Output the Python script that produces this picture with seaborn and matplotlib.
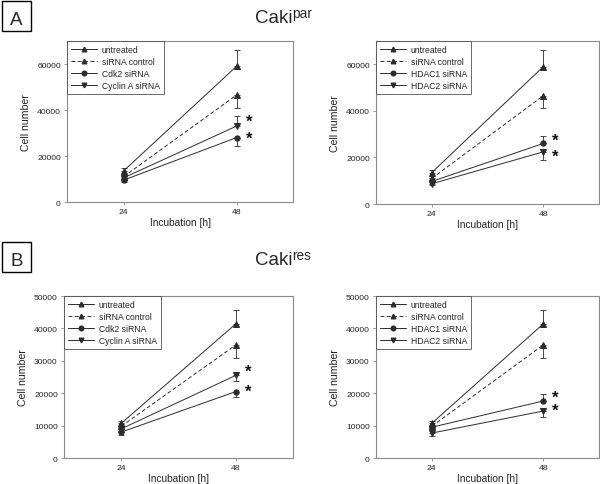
import matplotlib
matplotlib.use("Agg")
import matplotlib.pyplot as plt
import seaborn as sns
import pandas as pd
from matplotlib.lines import Line2D
from matplotlib.patches import Rectangle

sns.set_style("white")
plt.rcParams['font.family'] = ['Liberation Sans', 'DejaVu Sans']

hours = [24, 48]

# Caki par (cell numbers), error bars one-sided
par_untreated = [13500, 59000]
par_untreated_err = [1300, 7000]
par_control_l = [11000, 46500]
par_control_l_err = [1000, 5500]
par_cdk2 = [9500, 28000]
par_cdk2_err = [800, 3500]
par_cyclin = [10500, 33000]
par_cyclin_err = [800, 4200]

par_control_r = [11000, 46500]
par_control_r_err = [1000, 5200]
par_hdac1 = [9700, 26000]
par_hdac1_err = [600, 3100]
par_hdac2 = [8700, 22400]
par_hdac2_err = [600, 3300]

# Caki res
res_untreated = [10700, 41400]
res_untreated_err = [800, 4200]
res_control = [9800, 34900]
res_control_err = [900, 4000]
res_cdk2 = [8000, 20500]
res_cdk2_err = [900, 1800]
res_cyclin = [9000, 25500]
res_cyclin_err = [800, 1800]
res_hdac1 = [9500, 17600]
res_hdac1_err = [700, 2100]
res_hdac2 = [7700, 14500]
res_hdac2_err = [800, 1800]

LINE = '#2b2b2b'
FRAME = '#8a8a8a'
DASH = (0, (4, 2.5))
W, H = 600, 485


def draw_series(ax, vals, err, direction, marker, ls, label):
    df = pd.DataFrame({'h': hours, 'n': vals})
    sns.lineplot(data=df, x='h', y='n', ax=ax, color=LINE, lw=0.7,
                 linestyle=ls, marker=marker, markersize=3.8,
                 markeredgecolor=LINE, label=label, legend=False)
    lo = [0, 0]
    hi = [0, 0]
    if direction == 'up':
        hi = err
    else:
        lo = err
    ax.errorbar(hours, vals, yerr=[lo, hi], fmt='none', ecolor=LINE,
                elinewidth=0.6, capsize=2.5, capthick=0.6)


def add_stars(ax, y_top, y_bot):
    # both significance stars in one text, line gap matched to the data gap
    p0 = ax.transData.transform((48, y_top))[1]
    p1 = ax.transData.transform((48, y_bot))[1]
    gap = p0 - p1
    fs = 12
    ascent = 0.73 * fs * 100 / 72
    ax.text(50.6, (y_top + y_bot) / 2, '*\n*', fontsize=fs, fontweight='bold',
            ha='center', va='center', linespacing=gap / ascent, color='#111111')


def style_axes(ax, ymax, labels):
    ax.set_xlim(12, 60)
    ax.set_ylim(0, ymax)
    ax.set_xticks(hours)
    if ymax == 50000:
        ax.set_yticks(range(0, 50001, 10000))
    else:
        ax.set_yticks(range(0, 60001, 20000))
    ax.tick_params(axis='both', labelsize=6.1, length=2.5, width=0.6,
                   color=FRAME, direction='out', pad=2, labelcolor='#222222')
    ax.tick_params(left=True, bottom=True)
    for s in ax.spines.values():
        s.set_color(FRAME)
        s.set_linewidth(0.8)
    ax.set_xlabel('Incubation [h]', fontsize=7.3, labelpad=1, color='#222222')
    ax.set_ylabel('Cell number', fontsize=7.6, labelpad=4, color='#222222')
    handles = [
        Line2D([], [], color=LINE, lw=0.7, marker='^', markersize=3.3),
        Line2D([], [], color=LINE, lw=0.7, ls=DASH, marker='^', markersize=3.3),
        Line2D([], [], color=LINE, lw=0.7, marker='o', markersize=3.3),
        Line2D([], [], color=LINE, lw=0.7, marker='v', markersize=3.3),
    ]
    leg = ax.legend(handles, labels, loc='upper left', borderaxespad=0,
                    fontsize=6.2, frameon=True, fancybox=False,
                    handlelength=3.0, labelspacing=0.35, borderpad=0.45,
                    handletextpad=0.6, labelcolor='#222222')
    leg.get_frame().set_edgecolor('#444444')
    leg.get_frame().set_linewidth(0.7)


fig = plt.figure(figsize=(6, 4.85), dpi=100)

ax1 = fig.add_axes([0.1117, 0.5814, 0.3767, 0.332])
draw_series(ax1, par_untreated, par_untreated_err, 'up', '^', '-', 'untreated')
draw_series(ax1, par_control_l, par_control_l_err, 'down', '^', DASH, 'siRNA control')
draw_series(ax1, par_cdk2, par_cdk2_err, 'down', 'o', '-', 'Cdk2 siRNA')
draw_series(ax1, par_cyclin, par_cyclin_err, 'up', 'v', '-', 'Cyclin A siRNA')
style_axes(ax1, 70000, ['untreated', 'siRNA control', 'Cdk2 siRNA', 'Cyclin A siRNA'])
add_stars(ax1, par_cyclin[1] + 1500, par_cdk2[1] + 500)

ax2 = fig.add_axes([0.6267, 0.5773, 0.3717, 0.336])
draw_series(ax2, par_untreated, par_untreated_err, 'up', '^', '-', 'untreated')
draw_series(ax2, par_control_r, par_control_r_err, 'down', '^', DASH, 'siRNA control')
draw_series(ax2, par_hdac1, par_hdac1_err, 'up', 'o', '-', 'HDAC1 siRNA')
draw_series(ax2, par_hdac2, par_hdac2_err, 'down', 'v', '-', 'HDAC2 siRNA')
style_axes(ax2, 70000, ['untreated', 'siRNA control', 'HDAC1 siRNA', 'HDAC2 siRNA'])
add_stars(ax2, par_hdac1[1] + 800, par_hdac2[1] - 1300)

ax3 = fig.add_axes([0.1067, 0.0536, 0.3817, 0.334])
draw_series(ax3, res_untreated, res_untreated_err, 'up', '^', '-', 'untreated')
draw_series(ax3, res_control, res_control_err, 'down', '^', DASH, 'siRNA control')
draw_series(ax3, res_cdk2, res_cdk2_err, 'down', 'o', '-', 'Cdk2 siRNA')
draw_series(ax3, res_cyclin, res_cyclin_err, 'down', 'v', '-', 'Cyclin A siRNA')
style_axes(ax3, 50000, ['untreated', 'siRNA control', 'Cdk2 siRNA', 'Cyclin A siRNA'])
add_stars(ax3, res_cyclin[1] + 800, res_cdk2[1] + 500)

ax4 = fig.add_axes([0.6267, 0.0536, 0.3717, 0.334])
draw_series(ax4, res_untreated, res_untreated_err, 'up', '^', '-', 'untreated')
draw_series(ax4, res_control, res_control_err, 'down', '^', DASH, 'siRNA control')
draw_series(ax4, res_hdac1, res_hdac1_err, 'up', 'o', '-', 'HDAC1 siRNA')
draw_series(ax4, res_hdac2, res_hdac2_err, 'down', 'v', '-', 'HDAC2 siRNA')
style_axes(ax4, 50000, ['untreated', 'siRNA control', 'HDAC1 siRNA', 'HDAC2 siRNA'])
add_stars(ax4, res_hdac1[1] + 600, res_hdac2[1] + 600)

# panel letters in boxes
for letter, top in [('A', 2), ('B', 243)]:
    fig.add_artist(Rectangle((2 / W, 1 - (top + 30) / H), 29 / W, 30 / H,
                             transform=fig.transFigure, fill=False,
                             ec='black', lw=1.0))
    fig.text(16.5 / W, 1 - (top + 23) / H, letter, fontsize=13.5,
             ha='center', va='baseline')

# titles: Caki + superscript
for sup, base in [('par', 23), ('res', 265)]:
    fig.text(292 / W, 1 - base / H, 'Caki', fontsize=13.5, ha='right', va='baseline')
    fig.text(292 / W, 1 - (base - 5) / H, sup, fontsize=9.8, ha='left', va='baseline')

fig.savefig('out.png', dpi=100)
